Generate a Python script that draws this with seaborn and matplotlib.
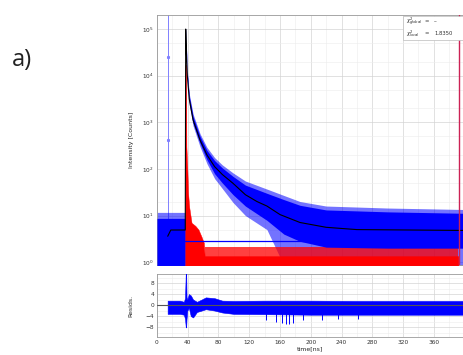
import numpy as np
import pandas as pd
import matplotlib
matplotlib.use("Agg")
import matplotlib.pyplot as plt
from matplotlib.ticker import MultipleLocator, LogLocator, NullFormatter
import seaborn as sns

# ---------------- data ----------------
# fitted decay (black)
fit_t = [14, 18, 36.8, 37.4, 38.5, 39.5, 42, 47, 56, 65, 75, 85, 99, 115, 130, 143, 160, 186, 220, 260, 398]
fit_y = [3.6, 4.9, 4.9, 1.0e5, 2.5e4, 1.0e4, 3160, 1120, 417, 200, 112, 76, 49, 28, 20, 16, 10.5, 7.1, 5.6, 5.0, 4.8]

# measured decay (blue): dense band and spike extremes
dat_t = [0, 36.8, 37.4, 39.5, 42, 47, 56, 65, 75, 85, 99, 115, 143, 165, 186, 220, 300, 398]
dat_up = [8.7, 8.7, 1.05e5, 1.12e4, 3630, 1320, 500, 250, 151, 105, 69, 45, 30, 22, 16.6, 13.2, 12.0, 11.2]
dat_lo = [0.85, 0.85, 9.0e4, 8900, 2750, 955, 355, 158, 79, 50, 28, 16, 7.9, 4.0, 2.8, 2.1, 2.0, 2.0]
spk_up = [11.7, 11.7, 1.1e5, 1.3e4, 4100, 1500, 570, 290, 175, 122, 82, 55, 37, 27, 20, 16, 14.5, 13.5]
spk_lo = [0.85, 0.85, 8.0e4, 7800, 2400, 840, 300, 130, 62, 38, 19, 10, 5, 0.85, 0.85, 0.85, 0.85, 0.85]

# instrument response (red)
irf_t = [36.8, 37.0, 37.8, 38.3, 39.5, 40.5, 42, 45, 50, 54, 58, 61, 62, 392]
irf_y = [0.85, 1.7e4, 1.7e4, 300, 100, 30, 15, 7, 6, 5, 3.5, 2.6, 1.35, 1.35]
irf_tail_t = [62, 392]
irf_tail_y = [2.1, 2.1]

# background level line (blue)
bg_t = [37, 221]
bg_y = [2.8, 2.8]

# residuals (blue)
res_t = [13.9, 30, 35, 36.5, 37.5, 38, 38.5, 39.5, 41.5, 44, 47, 52, 58, 63.5, 75, 85, 100, 140, 200, 260, 320, 398]
res_up = [1.6, 1.6, 1.2, 2.5, 12, 12, 3, 2, 4, 3.5, 2, 1.2, 2, 2.8, 2.5, 1.6, 1.5, 1.6, 1.6, 1.5, 1.5, 1.5]
res_lo = [-3.2, -3.2, -3.5, -5, -8.1, -8.1, -5, -2, -1, -4, -4.5, -2.5, -2, -1.5, -2, -2.7, -3.2, -3.3, -3.5, -3.5, -3.5, -3.5]
res_spk_t = [142, 155, 162, 168, 172, 177, 190, 215, 235, 262]
res_spk_y = [-5.5, -6.0, -6.5, -7.0, -6.8, -6.5, -5.5, -5.5, -5.0, -5.0]

x_ticks = [0, 40, 80, 120, 160, 200, 240, 280, 320, 360]
res_ticks = [-8, -4, 0, 4, 8]
chi_labels = [r"$\chi^2_{global}$", r"$\chi^2_{local}$"]
chi_values = ["--", "1.8350"]

# ---------------- figure ----------------
sns.set_style("white")
plt.rcParams["font.family"] = ["DejaVu Sans"]

fig = plt.figure(figsize=(4.63, 3.55), dpi=100)
ax = fig.add_axes([0.339, 0.2535, 0.661, 0.7042])
axr = fig.add_axes([0.339, 0.0507, 0.661, 0.1775])

BLUE = "#0000ff"
RED = "#ff0000"

for a in (ax, axr):
    a.set_xlim(0, 398)
    for s in a.spines.values():
        s.set_color("#9a9a9a")
        s.set_linewidth(0.6)
    a.xaxis.set_major_locator(MultipleLocator(40))
    a.xaxis.set_minor_locator(MultipleLocator(20))
    a.grid(which="major", color="#d4d4d4", lw=0.5)
    a.grid(which="minor", color="#ececec", lw=0.4)
    a.set_axisbelow(True)
    a.tick_params(length=0, labelsize=4.2, colors="#333333", pad=2)

# main decay axes
ax.set_yscale("log")
ax.set_ylim(0.87, 2.0e5)
ax.yaxis.set_major_locator(LogLocator(base=10, numticks=10))
ax.yaxis.set_minor_locator(LogLocator(base=10, subs=[2, 5], numticks=10))
ax.yaxis.set_minor_formatter(NullFormatter())
ax.tick_params(axis="x", labelbottom=False)

ax.fill_between(dat_t, spk_lo, spk_up, color=BLUE, alpha=0.55, lw=0, zorder=2)
ax.fill_between(irf_tail_t, 0.85, irf_tail_y, color=RED, alpha=0.75, lw=0, zorder=3)
ax.fill_between(dat_t, dat_lo, dat_up, color=BLUE, lw=0, zorder=4)
ax.fill_between(irf_t, 0.85, irf_y, color=RED, lw=0.3, edgecolor=RED, zorder=5)
ax.plot(bg_t, bg_y, color=BLUE, lw=0.9, zorder=6)
sns.lineplot(x=fit_t, y=fit_y, ax=ax, color="black", lw=0.8, zorder=7, estimator=None, sort=False)
ax.axvline(13.9, color="#8080ff", lw=0.7, zorder=1)
ax.plot([13.9, 13.9], [2.5e4, 420], ls="none", marker="s", ms=1.2, color="#8080ff", zorder=1)
ax.axvline(393, color="#cc2255", lw=1.0, zorder=8)
ax.set_ylabel("Intensity [Counts]", fontsize=4.5, labelpad=6)

# chi-square box
ax.add_patch(plt.Rectangle((0.805, 0.9), 0.2, 0.096, transform=ax.transAxes,
                           facecolor="white", edgecolor="#bbbbbb", lw=0.5, zorder=9))
for i, (lab, val) in enumerate(zip(chi_labels, chi_values)):
    yy = 0.972 - i * 0.046
    ax.text(0.815, yy, lab, transform=ax.transAxes, fontsize=3.8, va="center", zorder=10, color="#333333")
    ax.text(0.875, yy, "=", transform=ax.transAxes, fontsize=3.8, va="center", zorder=10, color="#333333")
    ax.text(0.905, yy, val, transform=ax.transAxes, fontsize=3.8, va="center", zorder=10, color="#333333")

# residuals
axr.set_ylim(-11.6, 11.3)
axr.set_yticks(res_ticks)
axr.yaxis.set_minor_locator(MultipleLocator(2))
axr.set_xticks(x_ticks)
axr.fill_between(res_t, res_lo, res_up, color=BLUE, lw=0.4, edgecolor=BLUE, zorder=3)
axr.vlines(res_spk_t, 0, res_spk_y, color=BLUE, lw=0.7, zorder=3)
sns.lineplot(x=[0, 398], y=[0, 0], ax=axr, color="#555555", lw=0.8, zorder=4)
axr.set_ylabel("Resids.", fontsize=4.5, labelpad=9)
axr.set_xlabel("time[ns]", fontsize=4.5, labelpad=1)

fig.text(12 / 463, 1 - 66 / 355, "a)", fontsize=17, color="#222222",
         family=["Open Sans", "DejaVu Sans"], va="baseline")

fig.savefig("out.png", dpi=100)
